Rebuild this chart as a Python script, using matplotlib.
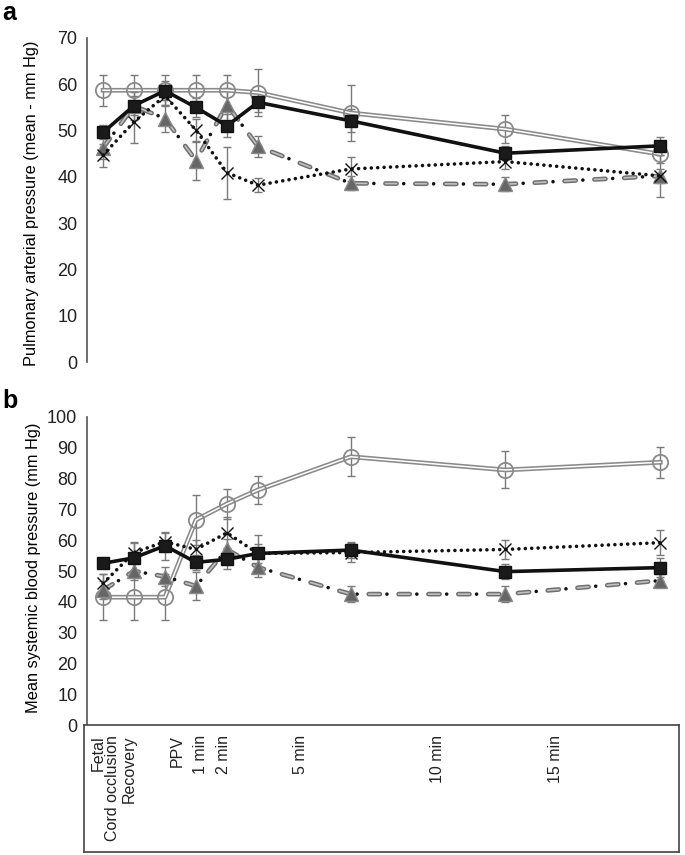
import matplotlib
matplotlib.use("Agg")
import matplotlib.pyplot as plt
import numpy as np

plt.rcParams['font.family'] = ['Liberation Sans', 'DejaVu Sans']
plt.rcParams['lines.scale_dashes'] = False

# x positions: fetal phases 0..2, then PPV + minutes
timepoints = ["Fetal", "Cord occlusion", "Recovery", "PPV", "1 min", "2 min", "5 min", "10 min", "15 min"]
xpos = [0, 1, 2, 3, 4, 5, 8, 13, 18]
label_pos = [-0.19, 0.29, 0.81, 2.39, 3.13, 3.87, 6.35, 10.8, 14.6]

# Panel a: pulmonary arterial pressure
a_circle = [58.7, 58.7, 58.7, 58.7, 58.7, 58.2, 53.8, 50.3, 44.9]
a_circle_err = [3.4, 3.4, 3.4, 3.4, 3.4, 5.0, 6.0, 3.0, 2.0]
a_square = [49.6, 55.4, 58.6, 55.0, 51.0, 56.1, 52.1, 45.1, 46.7]
a_square_err = [1.5, 2.0, 2.0, 2.0, 2.5, 2.0, 2.5, 1.5, 2.0]
a_tri = [46.3, 55.3, 52.6, 43.5, 55.6, 46.6, 38.6, 38.4, 40.2]
a_tri_err = [2.5, 3.0, 3.0, 4.2, 3.5, 2.3, 1.5, 1.5, 1.5]
a_cross = [44.7, 51.9, 57.5, 50.1, 40.9, 38.2, 41.7, 43.3, 40.2]
a_cross_err = [2.5, 4.5, 2.0, 2.5, 5.6, 1.5, 2.5, 1.5, 4.5]

# Panel b: mean systemic blood pressure
b_circle = [41.5, 41.5, 41.5, 66.6, 71.8, 76.3, 87.1, 82.8, 85.3]
b_circle_err = [7.4, 7.4, 7.4, 8.0, 4.8, 4.5, 6.3, 6.0, 5.0]
b_square = [52.5, 54.3, 58.2, 52.8, 53.8, 55.7, 56.8, 49.8, 51.1]
b_square_err = [1.5, 5.0, 4.6, 2.5, 3.0, 6.0, 2.5, 2.5, 3.0]
b_tri = [43.8, 50.0, 48.2, 45.1, 57.0, 51.2, 42.5, 42.5, 46.9]
b_tri_err = [3.0, 3.0, 3.0, 4.5, 3.5, 3.0, 2.5, 2.5, 2.0]
b_cross = [46.0, 56.0, 59.5, 57.0, 62.4, 55.7, 56.0, 57.0, 59.2]
b_cross_err = [3.0, 3.0, 3.0, 3.0, 5.0, 3.0, 3.0, 3.0, 4.0]

ECOL = '#7a7a7a'
DASH = (0, (8.0, 13.5))        # grey dash segments
DOTS = (-13.0, (0.01, 21.5))   # black dot between dashes


def draw(ax, circle, ce, square, se, tri, te, cross, xe):
    kw = dict(fmt='none', ecolor=ECOL, elinewidth=1.0, capsize=3, capthick=1.0, zorder=2)
    for vals, err in [(circle, ce), (square, se), (tri, te), (cross, xe)]:
        ax.errorbar(xpos, vals, yerr=err, **kw)
    # circle series: double grey line
    ax.plot(xpos, circle, color='#8a8a8a', lw=3.4, zorder=3)
    ax.plot(xpos, circle, color='white', lw=1.1, zorder=3.1)
    ax.plot(xpos, circle, ls='none', marker='o', ms=11, mfc='none', mec='#8a8a8a', mew=1.3, zorder=3.2)
    # triangle series: grey hollow dashes with black dots
    ax.plot(xpos, tri, color='#707070', lw=3.4, ls=DASH, dash_capstyle='round', zorder=4)
    ax.plot(xpos, tri, color='#c0c0c0', lw=1.2, ls=DASH, dash_capstyle='round', zorder=4.1)
    ax.plot(xpos, tri, color='#111111', lw=2.6, ls=DOTS, dash_capstyle='round', zorder=4.2)
    ax.plot(xpos, tri, ls='none', marker='^', ms=9.5, mfc='#666666', mec='#8a8a8a', mew=1.0, zorder=4.3)
    # cross series: dotted black
    ax.plot(xpos, cross, color='#111111', lw=2.6, ls=(0, (0.01, 4.6)), dash_capstyle='round', zorder=5)
    ax.plot(xpos, cross, ls='none', marker='x', ms=9, mec='#111111', mew=1.0, zorder=5.1)
    # square series: solid black
    ax.plot(xpos, square, color='#111111', lw=2.6, zorder=6,
            marker='s', ms=9, mfc='#1a1a1a', mec='#111111')


fig = plt.figure(figsize=(6.85, 8.55), dpi=100)

xlim = (-0.52, 18.6)

ax1 = fig.add_axes([0.127, 0.5766, 0.864, 0.379])
draw(ax1, a_circle, a_circle_err, a_square, a_square_err, a_tri, a_tri_err, a_cross, a_cross_err)
ax1.set_xlim(*xlim)
ax1.set_ylim(0, 70)
ax1.set_yticks(range(0, 71, 10))
ax1.set_ylabel('Pulmonary arterial pressure (mean - mm Hg)', fontsize=11.8)
ax1.yaxis.set_label_coords(-0.081, 0.49)

ax2 = fig.add_axes([0.127, 0.152, 0.864, 0.3603])
draw(ax2, b_circle, b_circle_err, b_square, b_square_err, b_tri, b_tri_err, b_cross, b_cross_err)
ax2.set_xlim(*xlim)
ax2.set_ylim(0, 100)
ax2.set_yticks(range(0, 101, 10))
ax2.set_ylabel('Mean systemic blood pressure (mm Hg)', fontsize=11.8)
ax2.yaxis.set_label_coords(-0.077, 0.51)

for ax in (ax1, ax2):
    for s in ['top', 'right', 'bottom']:
        ax.spines[s].set_visible(False)
    ax.spines['left'].set_color('#555555')
    ax.spines['left'].set_linewidth(1.2)
    ax.set_xticks([])
    ax.tick_params(axis='y', length=0, pad=7, labelsize=13, colors='#222222')
    ax.set_facecolor('none')

# label box
axb = fig.add_axes([0.1226, 0.0035, 0.8686, 0.1485])
axb.set_xlim(xlim[0] - 0.12, xlim[1])
axb.set_ylim(0, 1)
axb.set_xticks([])
axb.set_yticks([])
for s in axb.spines.values():
    s.set_color('#444444')
    s.set_linewidth(1.2)
for lab, p in zip(timepoints, label_pos):
    axb.text(p, 0.92, lab, rotation=90, ha='center', va='top', fontsize=11.5, color='#222222')

fig.text(0.004, 0.999, 'a', fontsize=18, fontweight='bold', va='top', ha='left')
fig.text(0.004, 0.545, 'b', fontsize=18, fontweight='bold', va='top', ha='left')

fig.savefig('out.png', dpi=100)
